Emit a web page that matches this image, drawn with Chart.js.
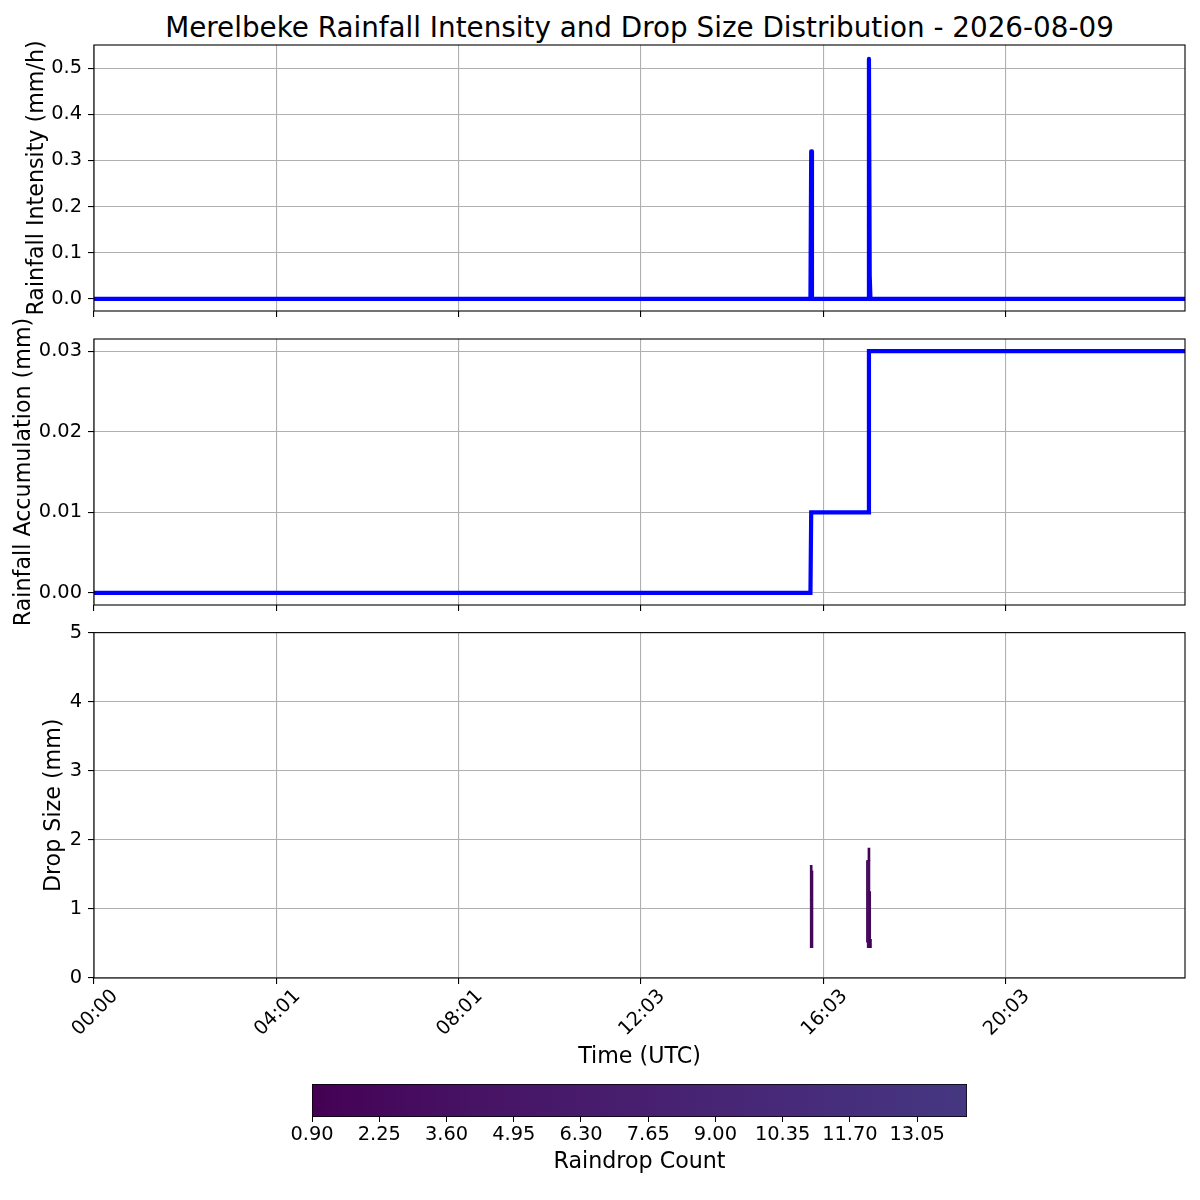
<!DOCTYPE html>
<html>
<head>
<meta charset="utf-8">
<script src="https://cdn.jsdelivr.net/npm/chart.js@4.4.1/dist/chart.umd.min.js"></script>
<style>
  body { margin: 0; background: #fff; width: 1200px; height: 1200px; position: relative; overflow: hidden; font-family: 'DejaVu Sans', sans-serif; }
  .panel { position: absolute; left: 0; width: 1200px; }
  #titulo { position: absolute; top: 12px; left: 94px; width: 1091px; text-align: center; font-size: 27.8px; line-height: 32px; color: #000; }
</style>
</head>
<body>
<div id="titulo">Merelbeke Rainfall Intensity and Drop Size Distribution - 2026-08-09</div>
<div class="panel" style="top:0px;height:330px"><canvas id="intensidad"></canvas></div>
<div class="panel" style="top:310px;height:325px"><canvas id="acumulado"></canvas></div>
<div class="panel" style="top:615px;height:456px"><canvas id="gotas"></canvas></div>
<div class="panel" style="top:1070px;height:106px"><canvas id="barraColor"></canvas></div>
<script>
// eje de tiempo (minutos desde 00:00 UTC)
const minutosTicks = [0, 240, 480, 720, 960, 1200]
const etiquetasTicks = ['00:00', '04:01', '08:01', '12:03', '16:03', '20:03']
const minutoFinal = 1436

// intensidad (mm/h)
const tiempoIntensidad = [0, 943, 944, 945, 1019, 1020, 1021, 1022, 1436]
const valoresIntensidad = [0, 0, 0.32, 0, 0, 0.52, 0.05, 0, 0]

// acumulado (mm)
const tiempoAcumulado = [0, 943, 944, 1019, 1020, 1436]
const valoresAcumulado = [0, 0, 0.01, 0.01, 0.03, 0.03]

// distribucion de gotas: una celda por minuto y rango de tamano
const celdaMinuto = [944, 944, 944, 945, 1018, 1019, 1019, 1020, 1020, 1020, 1021, 1022]
const celdaDesde = [0.44, 0.81, 1.12, 0.44, 0.52, 0.44, 0.94, 0.44, 1.06, 1.70, 0.44, 0.44]
const celdaHasta = [0.81, 1.12, 1.63, 1.55, 1.70, 0.94, 1.70, 1.06, 1.70, 1.88, 1.25, 0.56]
const celdaConteo = [2, 4, 2, 2, 2, 3, 5, 4, 3, 1, 2, 1]

// barra de color
const conteoMin = 0.9
const conteoMax = 14.05
const ticksColor = [0.90, 2.25, 3.60, 4.95, 6.30, 7.65, 9.00, 10.35, 11.70, 13.05]
const coloresMapa = ['#440154', '#471365', '#481f70', '#472b7a', '#453781']

Chart.defaults.font.family = "'DejaVu Sans', sans-serif"
Chart.defaults.font.size = 19.4
Chart.defaults.color = '#000'

const fuenteEje = { size: 22.2 }
const gris = '#b0b0b0'

function hexRgb(h) {
    return [1, 3, 5].map(i => parseInt(h.slice(i, i + 2), 16))
}

function colorConteo(c) {
    let t = (c - conteoMin) / (conteoMax - conteoMin)
    t = Math.max(0, Math.min(1, t)) * (coloresMapa.length - 1)
    const i = Math.min(Math.floor(t), coloresMapa.length - 2)
    const f = t - i
    const a = hexRgb(coloresMapa[i]), b = hexRgb(coloresMapa[i + 1])
    const rgb = a.map((v, k) => Math.round(v + (b[k] - v) * f))
    return `rgb(${rgb[0]},${rgb[1]},${rgb[2]})`
}

// marco negro alrededor del area
const marco = {
    id: 'marco',
    afterDatasetsDraw(chart) {
        const a = chart.chartArea
        const ctx = chart.ctx
        ctx.save()
        ctx.strokeStyle = '#000'
        ctx.lineWidth = 1.1
        ctx.strokeRect(a.left, a.top, a.right - a.left, a.bottom - a.top)
        ctx.restore()
    }
}

function ejeX(mostrarEtiquetas, alto) {
    return {
        type: 'linear',
        min: 0,
        max: minutoFinal,
        offset: false,
        afterBuildTicks: (escala) => { escala.ticks = minutosTicks.map(v => ({ value: v })) },
        afterFit: (escala) => { escala.height = alto },
        grid: { color: gris, lineWidth: 1.1, offset: false, drawTicks: true, tickLength: 6, tickColor: '#000' },
        border: { display: false },
        ticks: {
            display: mostrarEtiquetas,
            callback: (v, i) => etiquetasTicks[i],
            minRotation: 45,
            maxRotation: 45,
            labelOffset: 21,
            padding: 1
        },
        title: mostrarEtiquetas
            ? { display: true, text: 'Time (UTC)', font: fuenteEje, padding: { top: 0, bottom: 0 } }
            : { display: false }
    }
}

function ejeY(opciones) {
    return {
        type: 'linear',
        min: opciones.min,
        max: opciones.max,
        afterFit: (escala) => { escala.width = 94 },
        grid: { color: gris, lineWidth: 1.1, drawTicks: true, tickLength: 6, tickColor: '#000' },
        border: { display: false },
        ticks: {
            stepSize: opciones.paso,
            includeBounds: false,
            padding: 6,
            callback: v => v.toFixed(opciones.decimales)
        },
        title: { display: true, text: opciones.titulo, font: fuenteEje, padding: { top: opciones.separacion, bottom: 0 } }
    }
}

function puntos(xs, ys) {
    return xs.map((x, i) => ({ x: x, y: ys[i] }))
}

const comunes = {
    responsive: true,
    maintainAspectRatio: false,
    animation: false,
    plugins: { legend: { display: false }, tooltip: { enabled: false } }
}

new Chart(document.getElementById('intensidad'), {
    type: 'line',
    data: {
        datasets: [{
            data: puntos(tiempoIntensidad, valoresIntensidad),
            borderColor: '#0000ff',
            borderWidth: 4.2,
            pointRadius: 0,
            tension: 0,
            borderJoinStyle: 'round',
            borderCapStyle: 'round'
        }]
    },
    options: {
        ...comunes,
        layout: { padding: { top: 45, right: 15, left: 0, bottom: 0 } },
        scales: {
            x: ejeX(false, 19),
            y: ejeY({ min: -0.0262, max: 0.5502, paso: 0.1, decimales: 1, titulo: 'Rainfall Intensity (mm/h)', separacion: 23.5 })
        }
    },
    plugins: [marco]
})

new Chart(document.getElementById('acumulado'), {
    type: 'line',
    data: {
        datasets: [{
            data: puntos(tiempoAcumulado, valoresAcumulado),
            borderColor: '#0000ff',
            borderWidth: 4.2,
            pointRadius: 0,
            tension: 0,
            borderJoinStyle: 'miter',
            borderCapStyle: 'butt'
        }]
    },
    options: {
        ...comunes,
        layout: { padding: { top: 29, right: 15, left: 0, bottom: 0 } },
        scales: {
            x: ejeX(false, 30),
            y: ejeY({ min: -0.0015, max: 0.0315, paso: 0.01, decimales: 2, titulo: 'Rainfall Accumulation (mm)', separacion: 10.5 })
        }
    },
    plugins: [marco]
})

new Chart(document.getElementById('gotas'), {
    type: 'bar',
    data: {
        datasets: [{
            data: celdaMinuto.map((m, i) => ({ x: m, y: [celdaDesde[i], celdaHasta[i]] })),
            backgroundColor: (ctx) => colorConteo(celdaConteo[ctx.dataIndex]),
            borderWidth: 0,
            barThickness: 2,
            grouped: false
        }]
    },
    options: {
        ...comunes,
        layout: { padding: { top: 17, right: 15, left: 0, bottom: 0 } },
        scales: {
            x: ejeX(true, 93),
            y: ejeY({ min: 0, max: 5, paso: 1, decimales: 0, titulo: 'Drop Size (mm)', separacion: 40.5 })
        }
    },
    plugins: [marco]
})

new Chart(document.getElementById('barraColor'), {
    type: 'bar',
    data: {
        labels: ['conteo'],
        datasets: [{
            data: [[conteoMin, conteoMax]],
            backgroundColor: (ctx) => {
                const area = ctx.chart.chartArea
                if (!area) return coloresMapa[0]
                const g = ctx.chart.ctx.createLinearGradient(area.left, 0, area.right, 0)
                coloresMapa.forEach((c, i) => g.addColorStop(i / (coloresMapa.length - 1), c))
                return g
            },
            borderColor: '#000',
            borderWidth: 1,
            borderSkipped: false,
            barPercentage: 1,
            categoryPercentage: 1
        }]
    },
    options: {
        ...comunes,
        indexAxis: 'y',
        layout: { padding: { top: 14, right: 233, left: 312, bottom: 0 } },
        scales: {
            x: {
                type: 'linear',
                min: conteoMin,
                max: conteoMax,
                afterBuildTicks: (escala) => { escala.ticks = ticksColor.map(v => ({ value: v })) },
                afterFit: (escala) => { escala.height = 59 },
                grid: { drawOnChartArea: false, drawTicks: true, tickLength: 5, tickColor: '#000' },
                border: { display: false },
                ticks: { callback: v => v.toFixed(2), maxRotation: 0, autoSkip: false, padding: 1 },
                title: { display: true, text: 'Raindrop Count', font: fuenteEje, padding: { top: 0, bottom: 0 } }
            },
            y: { display: false }
        }
    }
})
</script>
</body>
</html>
